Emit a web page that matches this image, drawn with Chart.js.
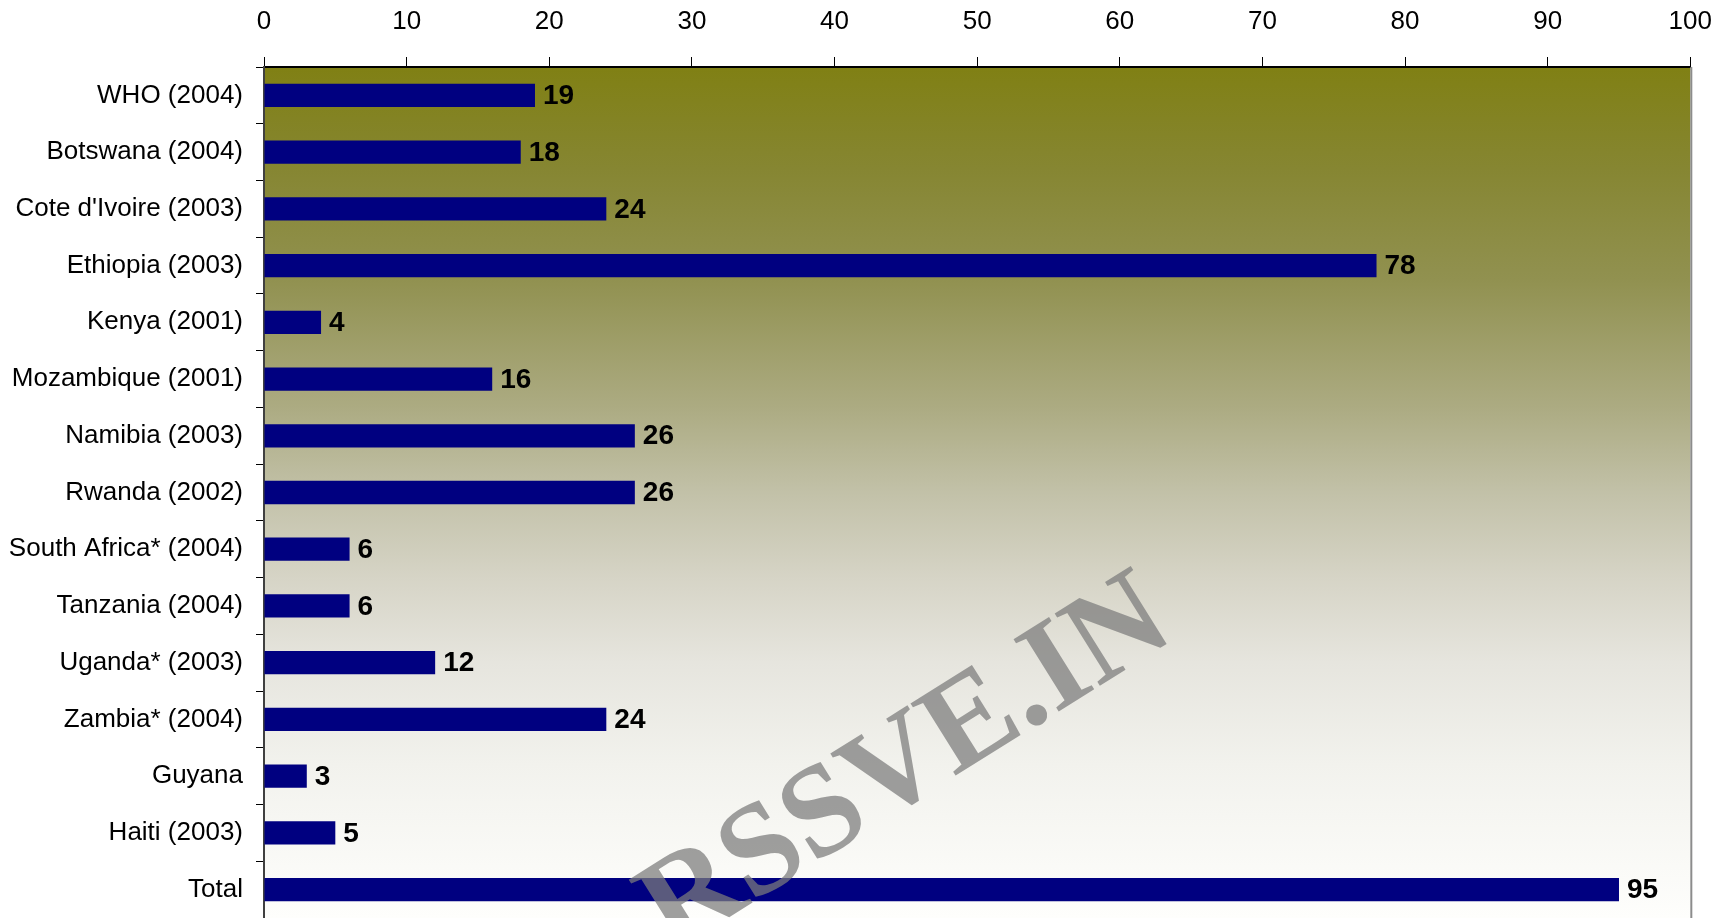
<!DOCTYPE html>
<html>
<head>
<meta charset="utf-8">
<script src="https://cdn.jsdelivr.net/npm/chart.js@4.4.1/dist/chart.umd.min.js"></script>
<style>
  html, body { margin: 0; padding: 0; background: #ffffff; }
  #wrap { width: 1732px; height: 918px; position: relative; }
</style>
</head>
<body>
<div id="wrap"><canvas id="barChart" width="1732" height="918"></canvas></div>
<script>
// Datos
const categories = [
    'WHO (2004)', 'Botswana (2004)', "Cote d'Ivoire (2003)", 'Ethiopia (2003)',
    'Kenya (2001)', 'Mozambique (2001)', 'Namibia (2003)', 'Rwanda (2002)',
    'South Africa* (2004)', 'Tanzania (2004)', 'Uganda* (2003)', 'Zambia* (2004)',
    'Guyana', 'Haiti (2003)', 'Total'
];
const values = [19, 18, 24, 78, 4, 16, 26, 26, 6, 6, 12, 24, 3, 5, 95];
const axisMin = 0;
const axisMax = 100;
const axisStep = 10;
const watermarkText = 'RSSVE.IN';

const sansFont = "'Liberation Sans', Arial, sans-serif";

// Fondo degradado del área del gráfico (oliva arriba, blanco abajo)
const plotBackground = {
    id: 'plotBackground',
    beforeDraw(chart) {
        const { ctx, chartArea: a } = chart;
        const g = ctx.createLinearGradient(0, a.top, 0, a.bottom);
        g.addColorStop(0.00, 'rgb(128,128,20)');
        g.addColorStop(0.12, 'rgb(134,134,50)');
        g.addColorStop(0.25, 'rgb(145,145,80)');
        g.addColorStop(0.40, 'rgb(172,171,130)');
        g.addColorStop(0.50, 'rgb(194,193,168)');
        g.addColorStop(0.60, 'rgb(214,212,198)');
        g.addColorStop(0.70, 'rgb(230,229,222)');
        g.addColorStop(0.82, 'rgb(242,242,237)');
        g.addColorStop(1.00, 'rgb(254,254,252)');
        ctx.save();
        ctx.fillStyle = g;
        ctx.fillRect(a.left, a.top, a.right - a.left, a.bottom - a.top);
        ctx.restore();
    },
    afterDraw(chart) {
        // borde derecho gris
        const { ctx, chartArea: a } = chart;
        ctx.save();
        ctx.strokeStyle = '#8c8c8c';
        ctx.lineWidth = 2;
        ctx.beginPath();
        ctx.moveTo(a.right + 1, a.top);
        ctx.lineTo(a.right + 1, a.bottom);
        ctx.stroke();
        ctx.restore();
    }
};

// Valores al final de cada barra
const barValues = {
    id: 'barValues',
    afterDatasetsDraw(chart) {
        const { ctx } = chart;
        const meta = chart.getDatasetMeta(0);
        ctx.save();
        ctx.font = "bold 28px " + sansFont;
        ctx.fillStyle = '#000000';
        ctx.textAlign = 'left';
        ctx.textBaseline = 'middle';
        meta.data.forEach((bar, i) => {
            ctx.fillText(String(values[i]), bar.x + 8, bar.y + 1);
        });
        ctx.restore();
    }
};

// Marca de agua girada
const watermark = {
    id: 'watermark',
    afterDraw(chart) {
        const { ctx, chartArea: a } = chart;
        ctx.save();
        ctx.translate(a.left + 408, a.top + 886);
        ctx.rotate(-32 * Math.PI / 180);
        ctx.font = "bold 130px 'Liberation Serif', 'Times New Roman', serif";
        ctx.fillStyle = 'rgba(124,124,124,0.73)';
        ctx.textBaseline = 'alphabetic';
        ctx.fillText(watermarkText, 0, 0);
        ctx.restore();
    }
};

const ctx = document.getElementById('barChart').getContext('2d');
const myBarChart = new Chart(ctx, {
    type: 'bar',
    data: {
        labels: categories,
        datasets: [{
            data: values,
            backgroundColor: '#000080',
            borderWidth: 0,
            barPercentage: 0.41,
            categoryPercentage: 1.0
        }]
    },
    options: {
        indexAxis: 'y',
        responsive: false,
        animation: false,
        layout: { padding: { top: 0, right: 41, bottom: 0, left: 0 } },
        plugins: {
            legend: { display: false },
            title: { display: false },
            tooltip: { enabled: false }
        },
        scales: {
            x: {
                type: 'linear',
                position: 'top',
                min: axisMin,
                max: axisMax,
                ticks: {
                    stepSize: axisStep,
                    color: '#000000',
                    font: { family: sansFont, size: 26 },
                    padding: 20
                },
                grid: {
                    drawOnChartArea: false,
                    drawTicks: true,
                    tickLength: 10,
                    color: '#000000',
                    lineWidth: 1
                },
                border: { display: true, color: '#000000', width: 2 },
                afterFit(scale) { scale.height = 67; }
            },
            y: {
                type: 'category',
                offset: true,
                ticks: {
                    color: '#000000',
                    font: { family: sansFont, size: 26 },
                    padding: 13
                },
                grid: {
                    offset: true,
                    drawOnChartArea: false,
                    drawTicks: true,
                    tickLength: 8,
                    color: '#000000',
                    lineWidth: 1
                },
                border: { display: true, color: '#404040', width: 2 },
                afterFit(scale) {
                    scale.width = 264;
                    // el área llega hasta el borde inferior del lienzo
                    scale.paddingTop = 0;
                    scale.paddingBottom = 0;
                }
            }
        }
    },
    plugins: [plotBackground, barValues, watermark]
});
</script>
</body>
</html>
